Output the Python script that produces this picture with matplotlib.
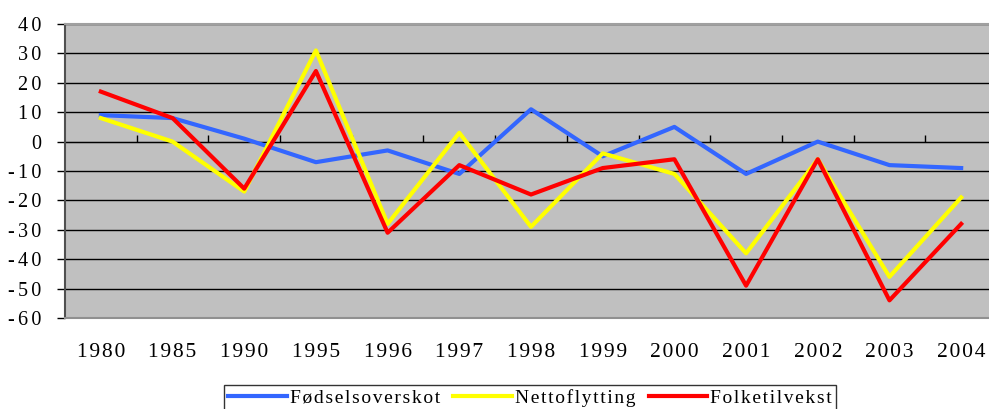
import matplotlib
matplotlib.use('Agg')
import matplotlib.pyplot as plt

matplotlib.rcParams['font.family'] = ['Liberation Serif', 'DejaVu Serif']
matplotlib.rcParams['axes.unicode_minus'] = False

years = ['1980', '1985', '1990', '1995', '1996', '1997', '1998',
         '1999', '2000', '2001', '2002', '2003', '2004']
fodselsoverskot = [9, 8, 1, -7, -3, -11, 11, -5, 5, -11, 0, -8, -9]
nettoflytting = [8, 0, -17, 31, -28, 3, -29, -4, -11, -38, -6, -46, -19]
folketilvekst = [17, 8, -16, 24, -31, -8, -18, -9, -6, -49, -6, -54, -28]

y_ticks = list(range(-60, 41, 10))


def spaced(s, sep='\u200a'):
    # the original has wide letter spacing
    return sep.join(s)


fig = plt.figure(figsize=(9.89, 4.09), dpi=100)
ax = fig.add_axes([65 / 989, 1 - 318 / 409, 932 / 989, 294 / 409])
ax.set_facecolor('#C0C0C0')

x = list(range(len(years)))
ax.plot(x, fodselsoverskot, color='#3366FF', lw=3, label=spaced('Fødselsoverskot'))
ax.plot(x, nettoflytting, color='#FFFF00', lw=3, label=spaced('Nettoflytting'))
ax.plot(x, folketilvekst, color='#FF0000', lw=3, label=spaced('Folketilvekst'))

ax.set_xlim(-0.5, len(years) - 0.5)
ax.set_ylim(-60, 40)
ax.set_yticks(y_ticks)
ax.set_yticklabels([spaced(str(v), '\u200a\u200a') for v in y_ticks], fontsize=14.5)
ax.yaxis.grid(True, color='black', lw=1)
ax.set_axisbelow(True)
ax.tick_params(axis='y', length=6, width=1, color='black', pad=11)

ax.set_xticks(x)
ax.set_xticklabels([spaced(y) for y in years], fontsize=15.5)
ax.tick_params(axis='x', length=0, pad=18)

for side in ['right', 'bottom']:
    ax.spines[side].set_color('#909090')
    ax.spines[side].set_linewidth(1.5)
ax.spines['top'].set_color('#A0A0A0')
ax.spines['top'].set_linewidth(1.5)
ax.spines['left'].set_color('#505050')
ax.spines['left'].set_linewidth(1.5)

# category axis crossing at zero, with tick marks between categories
zero_frac = (0 - (-60)) / (40 - (-60))
sec = ax.secondary_xaxis(zero_frac)
sec.set_xticks([i + 0.5 for i in x[:-1]])
sec.set_xticklabels([])
sec.tick_params(axis='x', length=5, width=1, color='black', direction='out')
sec.spines['bottom'].set_color('#404040')
sec.spines['bottom'].set_linewidth(1.5)

leg = fig.legend(loc='upper center', bbox_to_anchor=(530 / 989, 1 - 385 / 409),
                 ncol=3, fontsize=14, frameon=True, fancybox=False,
                 edgecolor='black', handlelength=3.0, columnspacing=0.7,
                 handletextpad=0.15, borderaxespad=0, borderpad=0.2)
leg.get_frame().set_linewidth(1)

fig.savefig('out.png', dpi=100)
